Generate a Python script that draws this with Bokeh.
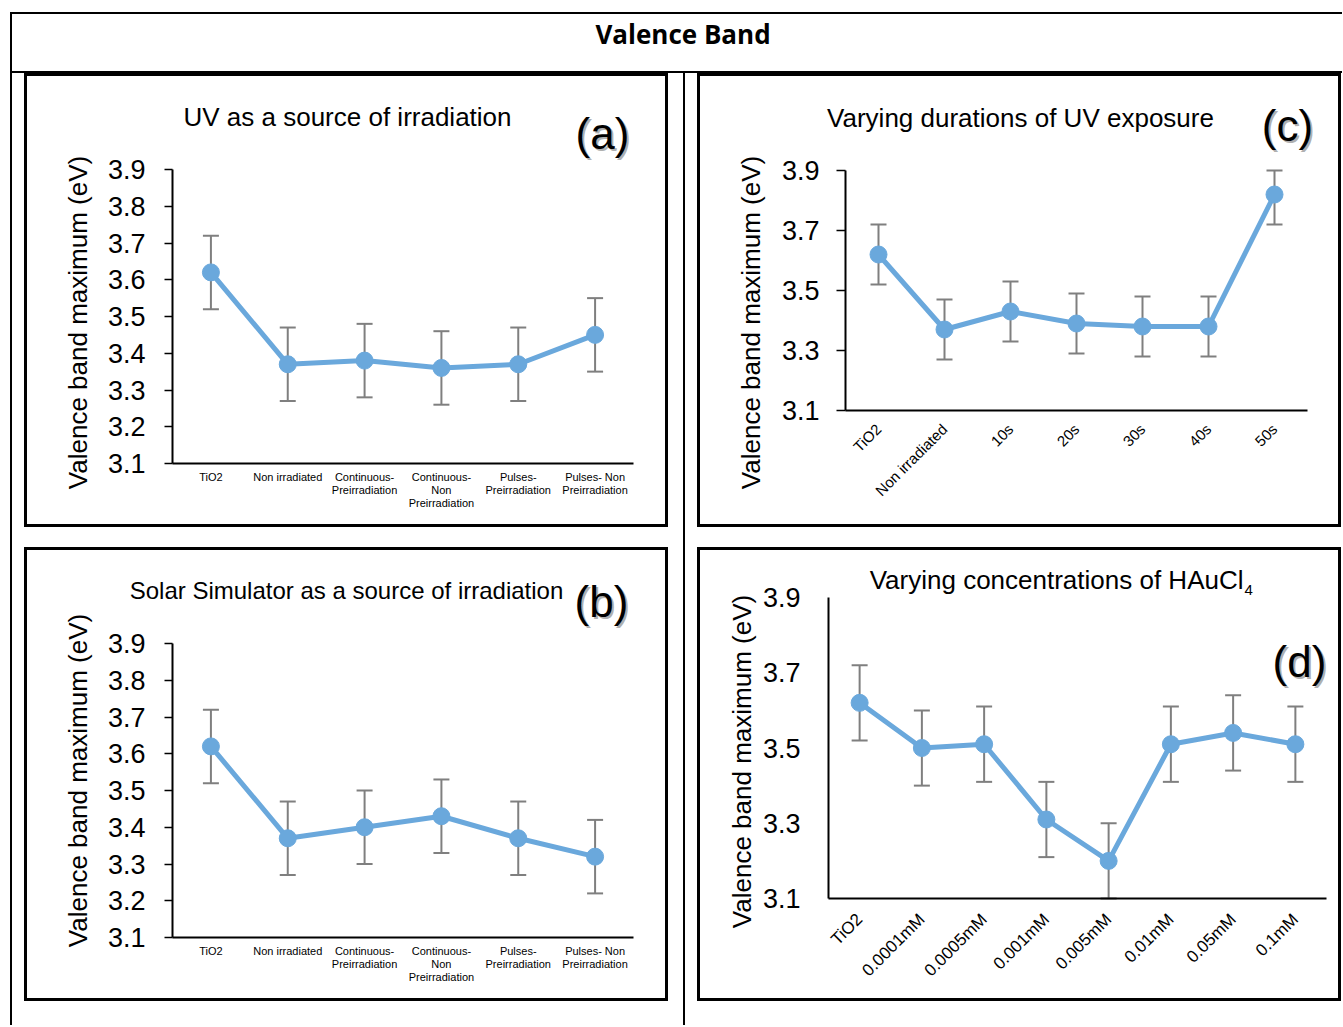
import math
from bokeh.plotting import figure
from bokeh.models import (ColumnDataSource, Range1d, FixedTicker,
                          PrintfTickFormatter, Whisker, TeeHead, Label, Div, Spacer)
from bokeh.layouts import column, row
from bokeh.embed import file_html
from bokeh.resources import INLINE

FONT = "Liberation Sans"
BLUE = "#6aa8dc"
GRAY = "#7f7f7f"

page_title = "Valence Band"
y_label = "Valence band maximum (eV)"

# ---- panel (a) ----
title_a = "UV as a source of irradiation"
cats_a = ["TiO2", "Non irradiated", "Continuous-\nPreirradiation",
          "Continuous-\nNon\nPreirradiation", "Pulses-\nPreirradiation",
          "Pulses- Non\nPreirradiation"]
vals_a = [3.62, 3.37, 3.38, 3.36, 3.37, 3.45]
err_a = [0.1, 0.1, 0.1, 0.1, 0.1, 0.1]
yticks_a = [3.1, 3.2, 3.3, 3.4, 3.5, 3.6, 3.7, 3.8, 3.9]

# ---- panel (b) ----
title_b = "Solar Simulator as a source of irradiation"
cats_b = cats_a
vals_b = [3.62, 3.37, 3.40, 3.43, 3.37, 3.32]
err_b = [0.1, 0.1, 0.1, 0.1, 0.1, 0.1]
yticks_b = yticks_a

# ---- panel (c) ----
title_c = "Varying durations of UV exposure"
cats_c = ["TiO2", "Non irradiated", "10s", "20s", "30s", "40s", "50s"]
vals_c = [3.62, 3.37, 3.43, 3.39, 3.38, 3.38, 3.82]
err_c = [0.1, 0.1, 0.1, 0.1, 0.1, 0.1, 0.1]
yticks_c = [3.1, 3.3, 3.5, 3.7, 3.9]

# ---- panel (d) ----
title_d = "Varying concentrations of HAuCl"
title_d_sub = "4"
cats_d = ["TiO2", "0.0001mM", "0.0005mM", "0.001mM", "0.005mM",
          "0.01mM", "0.05mM", "0.1mM"]
vals_d = [3.62, 3.50, 3.51, 3.31, 3.20, 3.51, 3.54, 3.51]
err_d = [0.1, 0.1, 0.1, 0.1, 0.1, 0.1, 0.1, 0.1]
yticks_d = [3.1, 3.3, 3.5, 3.7, 3.9]

Y0, Y1 = 3.1, 3.9
PW = 644           # outer width of a panel box
CW, CH = PW - 6, 448  # canvas size of each panel (frame fills the canvas)


def bar(w, h):
    return Div(text="", width=w, height=h, margin=0,
               styles={"background-color": "black"})


def gap(w, h):
    return Spacer(width=w, height=h, margin=0)


class Panel:
    """A figure whose frame fills the canvas; the data area sits at the
    given pixel box (left, right, top, bottom) inside it."""

    def __init__(self, cats, vals, errs, yticks, box, ysty, xsty):
        left, right, top, bottom = box
        n = len(cats)
        pxx = (right - left) / n
        pxy = (bottom - top) / (Y1 - Y0)
        self.pxx, self.pxy, self.left, self.bottom = pxx, pxy, left, bottom
        xr = Range1d(-left / pxx, n + (CW - right) / pxx)
        yr = Range1d(Y0 - (CH - bottom) / pxy, Y1 + top / pxy)
        p = figure(width=CW, height=CH, x_range=xr, y_range=yr,
                   output_backend="svg", toolbar_location=None,
                   min_border=0, min_border_left=0, min_border_right=0,
                   min_border_top=0, min_border_bottom=0, margin=0)
        p.xgrid.visible = False
        p.ygrid.visible = False
        p.outline_line_color = None
        p.background_fill_color = "white"
        p.border_fill_color = "white"

        xs = [i + 0.5 for i in range(n)]
        upper = [min(v + e, Y1) for v, e in zip(vals, errs)]
        lower = [max(v - e, Y0) for v, e in zip(vals, errs)]
        src = ColumnDataSource(dict(x=xs, y=vals, upper=upper, lower=lower,
                                    cat=cats))
        w = Whisker(base="x", upper="upper", lower="lower", source=src,
                    line_color=GRAY, line_width=2,
                    upper_head=TeeHead(size=16, line_color=GRAY, line_width=2),
                    lower_head=TeeHead(size=16, line_color=GRAY, line_width=2))
        p.add_layout(w)
        p.line("x", "y", source=src, line_color=BLUE, line_width=5)
        p.scatter("x", "y", source=src, size=17, color=BLUE)

        ya = p.yaxis[0]
        ya.fixed_location = 0
        ya.bounds = (Y0, Y1)
        ya.ticker = FixedTicker(ticks=yticks)
        ya.formatter = PrintfTickFormatter(format="%.1f")
        ya.axis_line_color = "black"
        ya.axis_line_width = 2
        ya.major_tick_line_color = "black"
        ya.major_tick_line_width = 1.5
        ya.major_tick_in = 0
        ya.major_tick_out = ysty["tick"]
        ya.minor_tick_line_color = None
        ya.major_label_standoff = ysty["standoff"]
        ya.major_label_text_font = FONT
        ya.major_label_text_font_size = "27px"
        ya.major_label_text_color = "black"

        xa = p.xaxis[0]
        xa.fixed_location = Y0
        xa.bounds = (0, n)
        xa.ticker = FixedTicker(ticks=xs)
        overrides = {}
        for xv, c in zip(xs, cats):
            overrides[xv] = c
        xa.major_label_overrides = overrides
        xa.axis_line_color = "black"
        xa.axis_line_width = 2
        xa.major_tick_line_color = None
        xa.minor_tick_line_color = None
        xa.major_label_text_font = FONT
        xa.major_label_text_font_size = xsty["size"]
        xa.major_label_text_line_height = xsty.get("lh", 1.2)
        xa.major_label_text_color = "black"
        xa.major_label_standoff = xsty["standoff"]
        if xsty.get("angle"):
            xa.major_label_orientation = xsty["angle"]
        self.p = p

    def text(self, cx, cy, text, size, align="center", baseline="middle",
             shadow=False, angle=0):
        # cx, cy: pixel position inside the canvas (from top-left)
        x = (cx - self.left) / self.pxx
        y = Y0 + (self.bottom - cy) / self.pxy
        if shadow:
            self.p.add_layout(Label(x=x, y=y, x_offset=2, y_offset=-2, text=text,
                                    text_font=FONT, text_font_size=size,
                                    text_color="#9a9a9a", text_alpha=0.8,
                                    text_align=align, text_baseline=baseline))
        self.p.add_layout(Label(x=x, y=y, text=text, text_font=FONT,
                                text_font_size=size, text_color="black",
                                text_align=align, text_baseline=baseline,
                                angle=angle))


ys_ab = {"tick": 8, "standoff": 19}
xs_ab = {"size": "11px", "standoff": 1, "lh": 1.1}
VERT = math.pi / 2

pa = Panel(cats_a, vals_a, err_a, yticks_a, (145, 606, 93, 387), ys_ab, xs_ab)
pa.text(320, 40, title_a, "26px")
pa.text(575, 57, "(a)", "44px", shadow=True)
pa.text(50, 246, y_label, "26px", angle=VERT)

pb = Panel(cats_b, vals_b, err_b, yticks_b, (145, 606, 93, 387), ys_ab, xs_ab)
pb.text(319, 40, title_b, "24px")
pb.text(574, 51, "(b)", "44px", shadow=True)
pb.text(50, 230, y_label, "26px", angle=VERT)

pc = Panel(cats_c, vals_c, err_c, yticks_c, (145, 607, 94, 334),
           {"tick": 9, "standoff": 17},
           {"size": "15px", "standoff": 10, "angle": math.pi / 4})
pc.text(320, 41, title_c, "26px")
pc.text(587, 49, "(c)", "44px", shadow=True)
pc.text(50, 246, y_label, "26px", angle=VERT)

pd_ = Panel(cats_d, vals_d, err_d, yticks_d, (128, 626, 47, 348),
            {"tick": 0, "standoff": 28},
            {"size": "17px", "standoff": 12, "angle": math.pi / 4})
pd_.text(543, 29, title_d, "26px", align="right")
pd_.text(544, 39, title_d_sub, "15px", align="left")
pd_.text(599, 111, "(d)", "44px", shadow=True)
pd_.text(41, 211, y_label, "26px", angle=VERT)


def boxed(panel):
    return column(bar(PW, 3),
                  row(bar(3, CH), panel.p, bar(3, CH)),
                  bar(PW, 3))


BODY_H = 952
left_cell = row(gap(12, BODY_H),
                column(boxed(pa), gap(PW, 20), boxed(pb), gap(PW, 24)),
                gap(15, BODY_H))
right_cell = row(gap(12, BODY_H),
                 column(boxed(pc), gap(PW, 20), boxed(pd_), gap(PW, 24)),
                 gap(1, BODY_H))
body = row(left_cell, bar(2, BODY_H), right_cell)

INNER_W = 12 + PW + 15 + 2 + 12 + PW + 1
title_div = Div(text='<span style="position:relative; left:6px">%s</span>' % page_title,
                width=INNER_W, height=57, margin=0,
                styles={"font-family": "Open Sans", "font-weight": "bold",
                        "font-size": "26px", "text-align": "center",
                        "line-height": "40px", "color": "black"})

inner = column(bar(INNER_W, 2), title_div, bar(INNER_W, 2), body)
root = column(gap(10 + 2 + INNER_W, 12),
              row(gap(10, 2 + 57 + 2 + BODY_H), bar(2, 2 + 57 + 2 + BODY_H), inner))

open("out.html", "w").write(file_html(root, INLINE, title="Valence Band"))
